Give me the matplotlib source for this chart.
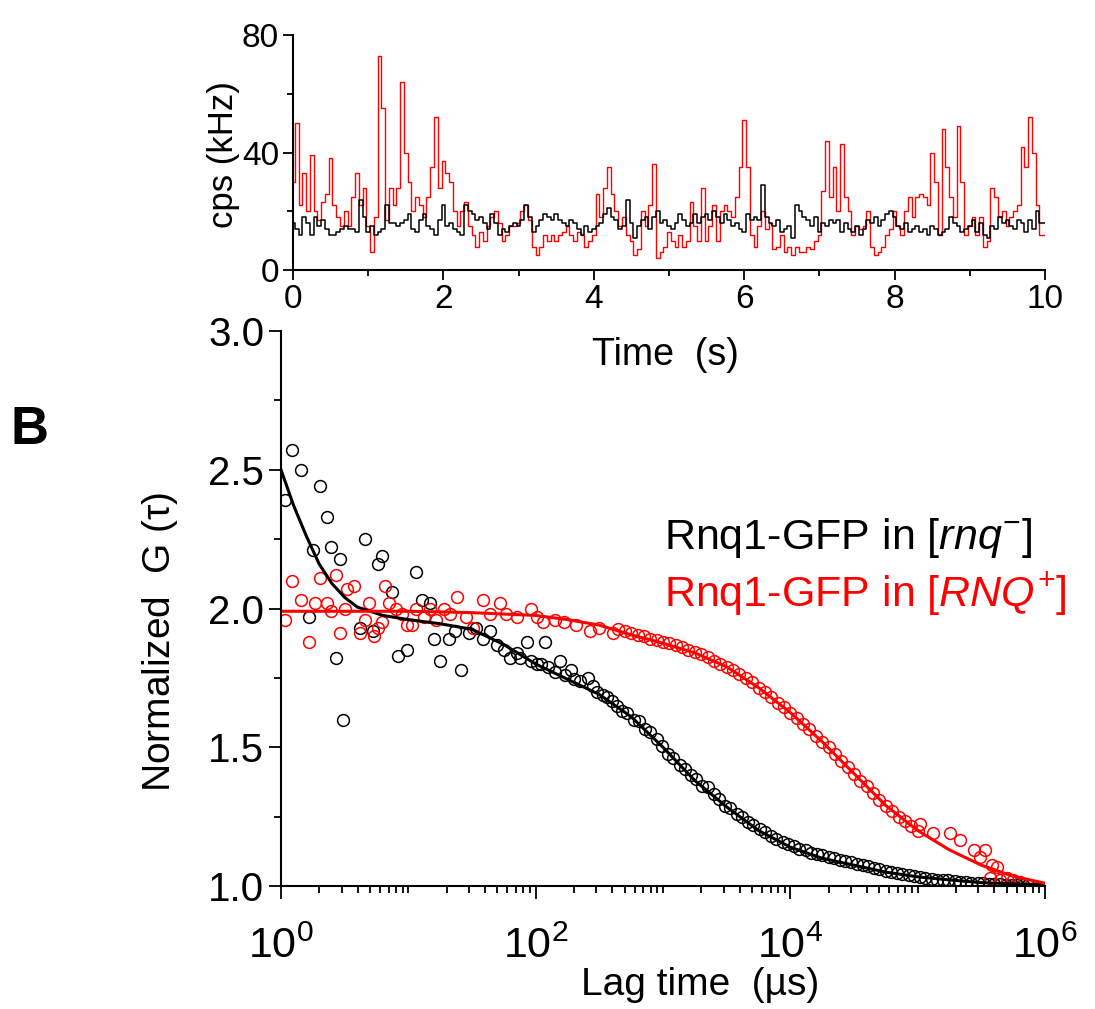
import numpy as np
import matplotlib
matplotlib.use('Agg')
import matplotlib.pyplot as plt
from matplotlib.ticker import MultipleLocator, LogLocator, NullFormatter

plt.rcParams['font.family'] = ['Liberation Sans', 'DejaVu Sans']
plt.rcParams['mathtext.fontset'] = 'custom'
plt.rcParams['mathtext.rm'] = 'Liberation Sans'
plt.rcParams['mathtext.it'] = 'Liberation Sans:italic'
plt.rcParams['mathtext.default'] = 'regular'

# --- intensity traces, 50 ms bins, kHz ---
bin_s = 0.05
cps_red = [
    30, 50, 22, 33, 20, 39, 20, 17, 23, 26,
    38, 22, 18, 15, 20, 15, 25, 33, 22, 28,
    15, 6, 18, 73, 55, 17, 28, 22, 28, 64,
    40, 30, 20, 25, 22, 18, 25, 35, 52, 28,
    37, 33, 30, 20, 15, 20, 23, 15, 12, 8,
    13, 10, 15, 18, 20, 16, 10, 12, 15, 15,
    16, 20, 22, 17, 8, 5, 8, 12, 10, 12,
    10, 12, 13, 15, 12, 10, 13, 12, 8, 10,
    12, 26, 18, 28, 35, 26, 20, 15, 18, 12,
    10, 5, 7, 20, 15, 22, 36, 4, 6, 8,
    13, 10, 8, 12, 8, 10, 23, 15, 10, 28,
    10, 15, 22, 10, 20, 22, 20, 18, 25, 35,
    51, 35, 12, 8, 15, 20, 14, 16, 7, 8,
    12, 6, 8, 5, 8, 6, 6, 8, 7, 10,
    12, 27, 44, 25, 35, 20, 43, 25, 20, 12,
    15, 14, 15, 20, 8, 5, 6, 8, 12, 14,
    20, 15, 12, 20, 25, 18, 25, 26, 25, 22,
    40, 30, 12, 48, 35, 25, 18, 49, 30, 12,
    15, 18, 12, 18, 8, 10, 28, 25, 18, 20,
    15, 18, 20, 22, 42, 35, 52, 40, 22, 12,
    12,
]
cps_black = [
    16, 14, 12, 18, 16, 12, 18, 15, 17, 14,
    12, 12, 13, 14, 15, 14, 14, 13, 24, 18,
    13, 15, 12, 13, 14, 22, 16, 16, 15, 16,
    17, 19, 14, 13, 17, 19, 15, 14, 12, 17,
    22, 15, 16, 14, 13, 12, 22, 20, 19, 17,
    18, 16, 14, 19, 16, 12, 14, 13, 15, 16,
    15, 17, 22, 18, 13, 15, 17, 19, 18, 17,
    19, 17, 16, 15, 17, 16, 14, 12, 15, 13,
    14, 15, 16, 19, 21, 18, 17, 14, 15, 24,
    16, 11, 15, 17, 18, 14, 18, 20, 16, 17,
    15, 14, 16, 19, 17, 15, 16, 19, 16, 18,
    19, 17, 20, 18, 16, 19, 17, 15, 16, 14,
    13, 19, 17, 18, 17, 29, 18, 16, 15, 17,
    13, 14, 15, 11, 22, 20, 18, 17, 15, 18,
    13, 16, 15, 17, 16, 17, 13, 16, 14, 13,
    15, 12, 14, 17, 16, 18, 15, 17, 19, 20,
    18, 15, 14, 16, 13, 14, 15, 13, 14, 12,
    15, 14, 12, 13, 14, 18, 16, 15, 13, 14,
    15, 17, 13, 16, 12, 11, 15, 14, 18, 16,
    17, 15, 14, 17, 16, 13, 17, 14, 20, 16,
    16,
]

# --- autocorrelation data, log10(lag / us) and normalized G ---
log_lag_black = [
    0.03, 0.09, 0.16, 0.22, 0.25, 0.31, 0.36, 0.39, 0.43, 0.46, 0.49,
    0.62, 0.66, 0.72, 0.76, 0.79, 0.87, 0.92, 0.99, 1.06, 1.11, 1.17,
    1.20, 1.25, 1.32, 1.37, 1.41, 1.48, 1.53, 1.59, 1.64, 1.70, 1.75,
    1.80, 1.85, 1.88, 1.93, 1.96, 2.01, 2.04, 2.07, 2.10, 2.15, 2.19,
    2.23, 2.28, 2.30, 2.35, 2.41, 2.45, 2.48, 2.53, 2.56, 2.60, 2.64,
    2.68, 2.72, 2.77, 2.81, 2.86, 2.90, 2.95, 2.99, 3.04, 3.08, 3.13,
    3.17, 3.22, 3.26, 3.31, 3.35, 3.40, 3.44, 3.49, 3.53, 3.58, 3.62,
    3.67, 3.71, 3.76, 3.80, 3.85, 3.89, 3.94, 3.98, 4.03, 4.07, 4.12,
    4.16, 4.21, 4.25, 4.30, 4.34, 4.39, 4.43, 4.48, 4.52, 4.57, 4.61,
    4.66, 4.70, 4.75, 4.79, 4.84, 4.88, 4.93, 4.97, 5.02, 5.06, 5.11,
    5.15, 5.20, 5.24, 5.29, 5.33, 5.38, 5.42, 5.47, 5.51, 5.56, 5.60,
    5.65, 5.69, 5.74, 5.78, 5.83, 5.87,
]
g_black = [
    2.39, 2.57, 2.50, 1.97, 2.21, 2.44, 2.33, 2.22, 1.82, 2.18, 1.60,
    1.93, 2.25, 1.92, 2.16, 2.19, 2.06, 1.83, 1.85, 2.13, 2.03, 2.02,
    1.89, 1.81, 1.89, 1.92, 1.78, 1.91, 1.93, 1.89, 1.92, 1.87, 1.85,
    1.82, 1.84, 1.82, 1.88, 1.81, 1.80, 1.80, 1.88, 1.79, 1.77, 1.81,
    1.76, 1.78, 1.745, 1.74, 1.75, 1.72, 1.70, 1.69, 1.68, 1.665, 1.65,
    1.63, 1.625, 1.60, 1.595, 1.565, 1.555, 1.53, 1.505, 1.475, 1.46, 1.435,
    1.42, 1.40, 1.385, 1.36, 1.355, 1.33, 1.315, 1.29, 1.28, 1.26, 1.25,
    1.23, 1.22, 1.205, 1.195, 1.18, 1.17, 1.16, 1.15, 1.145, 1.135, 1.13,
    1.12, 1.115, 1.11, 1.105, 1.10, 1.095, 1.09, 1.085, 1.08, 1.075, 1.072,
    1.065, 1.062, 1.055, 1.052, 1.047, 1.042, 1.039, 1.036, 1.031, 1.029, 1.025,
    1.023, 1.021, 1.02, 1.018, 1.015, 1.014, 1.012, 1.01, 1.01, 1.008, 1.008,
    1.006, 1.005, 1.004, 1.004, 1.003, 1.002,
]
log_lag_red = [
    0.03, 0.09, 0.16, 0.22, 0.27, 0.31, 0.36, 0.39, 0.43, 0.46, 0.50,
    0.52, 0.57, 0.62, 0.66, 0.69, 0.73, 0.76, 0.79, 0.82, 0.85, 0.90,
    0.95, 0.99, 1.03, 1.06, 1.12, 1.17, 1.22, 1.28, 1.33, 1.38, 1.45,
    1.51, 1.59, 1.64, 1.72, 1.77, 1.85, 1.96, 2.01, 2.06, 2.15, 2.22,
    2.32, 2.43, 2.50, 2.61,
    2.65, 2.70, 2.75, 2.80, 2.85, 2.90, 2.95, 3.00, 3.05, 3.10, 3.15,
    3.20, 3.25, 3.30, 3.35, 3.40, 3.45, 3.50, 3.55, 3.60, 3.65, 3.70,
    3.75, 3.80, 3.85, 3.90, 3.95, 4.00, 4.05, 4.10, 4.15, 4.20, 4.25,
    4.30, 4.35, 4.40, 4.45, 4.50, 4.55, 4.60, 4.65, 4.70, 4.75, 4.80,
    4.85, 4.90, 4.95, 5.00,
    5.02, 5.12, 5.25, 5.33, 5.44, 5.49, 5.53, 5.57, 5.58, 5.62, 5.65,
    5.70, 5.75, 5.80,
]
g_red = [
    1.96, 2.10, 2.03, 1.88, 2.02, 2.11, 2.02, 1.99, 2.12, 1.91, 2.00,
    2.07, 2.08, 1.91, 1.96, 2.02, 1.90, 1.93, 1.95, 2.08, 2.02, 2.00,
    1.98, 1.94, 1.94, 2.00, 1.97, 2.00, 1.96, 2.00, 1.98, 2.04, 1.97,
    1.93, 2.03, 1.98, 2.02, 1.98, 1.97, 2.00, 1.97, 1.95, 1.96, 1.95,
    1.94, 1.92, 1.93, 1.91,
    1.925, 1.92, 1.91, 1.905, 1.90, 1.89, 1.885, 1.88, 1.875, 1.87, 1.86,
    1.85, 1.845, 1.835, 1.825, 1.81, 1.80, 1.79, 1.78, 1.765, 1.75, 1.735,
    1.715, 1.70, 1.68, 1.66, 1.645, 1.625, 1.605, 1.585, 1.565, 1.54, 1.52,
    1.50, 1.475, 1.45, 1.43, 1.405, 1.38, 1.36, 1.335, 1.31, 1.29, 1.27,
    1.25, 1.235, 1.215, 1.20,
    1.225, 1.19, 1.19, 1.165, 1.13, 1.105, 1.13, 1.03, 1.075, 1.07, 1.02,
    1.03, 1.02, 1.015,
]

# --- fitted curves ---
fit_log_lag = [0.0, 0.1, 0.2, 0.3, 0.4, 0.5, 0.6, 0.8, 1.0, 1.25, 1.5, 1.75,
               2.0, 2.25, 2.5, 2.75, 3.0, 3.25, 3.5, 3.75, 4.0, 4.25, 4.5,
               4.75, 5.0, 5.25, 5.5, 5.75, 6.0]
fit_black = [2.50, 2.37, 2.26, 2.16, 2.09, 2.04, 2.005, 1.975, 1.96, 1.945,
             1.925, 1.87, 1.80, 1.745, 1.69, 1.61, 1.50, 1.38, 1.285, 1.20,
             1.14, 1.10, 1.075, 1.05, 1.033, 1.022, 1.012, 1.008, 1.005]
fit_red = [1.99, 1.99, 1.99, 1.99, 1.99, 1.99, 1.99, 1.99, 1.99, 1.988,
           1.985, 1.98, 1.975, 1.96, 1.94, 1.905, 1.875, 1.84, 1.79, 1.715,
           1.625, 1.52, 1.405, 1.29, 1.20, 1.13, 1.075, 1.035, 1.01]

W, H = 1095, 1009


def style_axes(ax):
    ax.spines['top'].set_visible(False)
    ax.spines['right'].set_visible(False)
    for s in ('left', 'bottom'):
        ax.spines[s].set_linewidth(1.5)
    ax.tick_params(which='both', direction='out', width=1.3)


def draw_trace(fig):
    ax = fig.add_axes([293 / W, 1 - 270 / H, (1045 - 293) / W, (270 - 35) / H])
    time_s = np.arange(len(cps_red)) * bin_s
    ax.plot(time_s, cps_red, color='#ff0000', lw=1.0, drawstyle='steps-mid')
    ax.plot(time_s, cps_black, color='black', lw=1.1, drawstyle='steps-mid')
    ax.set_xlim(0, 10)
    ax.set_ylim(0, 80)
    ax.xaxis.set_major_locator(MultipleLocator(2))
    ax.xaxis.set_minor_locator(MultipleLocator(1))
    ax.yaxis.set_major_locator(MultipleLocator(40))
    ax.yaxis.set_minor_locator(MultipleLocator(20))
    style_axes(ax)
    ax.tick_params(which='major', length=7, labelsize=24, pad=3)
    ax.tick_params(which='minor', length=4)
    fig.text(224 / W, 1 - 155 / H, 'cps (kHz)', rotation=90, fontsize=25,
             ha='center', va='center')
    fig.text(665 / W, 1 - 355 / H, 'Time  (s)', fontsize=27,
             ha='center', va='center')


def draw_fcs(fig):
    ax = fig.add_axes([281 / W, 1 - 886 / H, (1045 - 281) / W, (886 - 331) / H])
    ax.set_xscale('log')
    ax.plot(10 ** np.array(log_lag_black), g_black, 'o', ms=8.5, mfc='none',
            mec='black', mew=1.1)
    ax.plot(10 ** np.array(log_lag_red), g_red, 'o', ms=8.5, mfc='none',
            mec='#ff0000', mew=1.1)
    ax.plot(10 ** np.array(fit_log_lag), fit_black, color='black', lw=2.2)
    ax.plot(10 ** np.array(fit_log_lag), fit_red, color='#ff0000', lw=2.2)
    ax.set_xlim(1, 1e6)
    ax.set_ylim(1.0, 3.0)
    ax.set_xticks([1, 1e2, 1e4, 1e6])
    ax.set_xticklabels([r'$10^{%d}$' % p for p in (0, 2, 4, 6)])
    ax.xaxis.set_minor_locator(LogLocator(base=10, subs=np.arange(1, 10), numticks=50))
    ax.xaxis.set_minor_formatter(NullFormatter())
    ax.yaxis.set_minor_locator(MultipleLocator(0.25))
    ax.set_yticks([1.0, 1.5, 2.0, 2.5, 3.0])
    ax.set_yticklabels(['1.0', '1.5', '2.0', '2.5', '3.0'])
    style_axes(ax)
    ax.tick_params(which='major', length=9, labelsize=29, pad=3)
    ax.tick_params(which='minor', length=5)
    ax.tick_params(axis='x', which='major', labelsize=31, pad=20)

    fig.text(160 / W, 1 - 642 / H, r'Normalized  G $(\tau)$', rotation=90,
             fontsize=28, ha='center', va='center')
    fig.text(700 / W, 1 - 985 / H, 'Lag time  (\u00b5s)', fontsize=28,
             ha='center', va='center')
    fig.text(664 / W, 1 - 549 / H, r'Rnq1-GFP in [$\mathit{rnq}^{-}$]',
             fontsize=31, color='black', ha='left', va='baseline')
    fig.text(664 / W, 1 - 606 / H, r'Rnq1-GFP in [$\mathit{RNQ}^{+}$]',
             fontsize=31, color='#ff0000', ha='left', va='baseline')
    fig.text(10 / W, 1 - 430 / H, 'B', fontsize=38, fontweight='bold',
             ha='left', va='center')


def main():
    fig = plt.figure(figsize=(W / 100, H / 100), dpi=100)
    draw_trace(fig)
    draw_fcs(fig)
    fig.savefig('out.png', dpi=100)


if __name__ == '__main__':
    main()
